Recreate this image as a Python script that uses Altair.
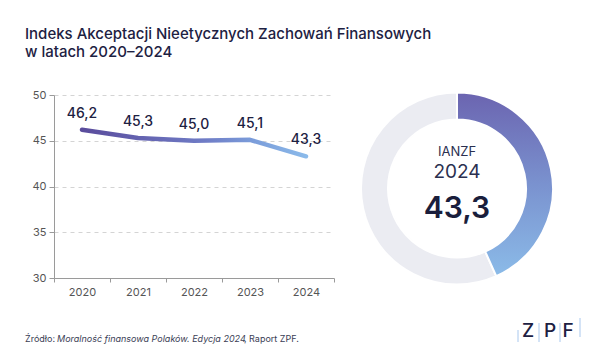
import altair as alt
import pandas as pd

# ---- data ----
years = ["2020", "2021", "2022", "2023", "2024"]
values = [46.2, 45.3, 45.0, 45.1, 43.3]
y_ticks = [30, 35, 40, 45, 50]
title_lines = ["Indeks Akceptacji Nieetycznych Zachowań Finansowych", "w latach 2020–2024"]
donut_label = "IANZF"
donut_year = "2024"
donut_value = values[-1]
footer_parts = ["Źródło: ", "Moralność finansowa Polaków. Edycja 2024", ", Raport ZPF."]
logo_letters = ["Z", "P", "F"]

FONT = "Inter"
NAVY = "#1d2142"

df = pd.DataFrame({"year": years, "value": values})

W, H = 280, 183

x_enc = alt.X("year:O", scale=alt.Scale(type="band", paddingInner=0, paddingOuter=0),
              axis=alt.Axis(title=None, labelAngle=0, tickBand="extent", tickSize=4,
                            labelPadding=4, domainColor="#9a9a9a", tickColor="#9a9a9a",
                            labelColor="#555", labelFontSize=11, labelFont=FONT, grid=False))
y_enc = alt.Y("value:Q", scale=alt.Scale(domain=[30, 50], nice=False, zero=False),
              axis=alt.Axis(title=None, values=y_ticks, tickSize=5, labelPadding=3,
                            domainColor="#9a9a9a", tickColor="#9a9a9a", labelColor="#555",
                            labelFontSize=11, labelFont=FONT, grid=True, gridColor="#d4d4d4",
                            gridDash=[4, 4], gridWidth=1))

line_grad = alt.LinearGradient(
    gradient="linear",
    stops=[alt.GradientStop(color="#5a4c9c", offset=0),
           alt.GradientStop(color="#6f7cc6", offset=0.55),
           alt.GradientStop(color="#7a9bd9", offset=0.75),
           alt.GradientStop(color="#8bbaea", offset=1)],
    x1=0, x2=1, y1=0, y2=0)

line = alt.Chart(df).mark_line(stroke=line_grad, strokeWidth=4.5, strokeCap="round",
                               strokeJoin="round").encode(x=x_enc, y=y_enc)

labels = alt.Chart(df).transform_calculate(
    lab="replace(format(datum.value, '.1f'), '.', ',')"
).mark_text(font=FONT, fontSize=14, fontWeight=500, color=NAVY, dy=-12,
            baseline="alphabetic").encode(x="year:O", y="value:Q", text="lab:N")

# ---- donut ----
arc_df = pd.DataFrame({"start": [0, donut_value], "end": [donut_value, 100], "part": ["v", "rest"]})
theta_scale = alt.Scale(domain=[0, 100], range=[0, 6.283185307179586])
CX, CY = 403, 93.5

arc_grad = alt.LinearGradient(
    gradient="linear",
    stops=[alt.GradientStop(color="#6b64b0", offset=0),
           alt.GradientStop(color="#7a92cf", offset=0.5),
           alt.GradientStop(color="#8bbbe8", offset=1)],
    x1=0, x2=0, y1=0, y2=1)

arc_rest = alt.Chart(arc_df).transform_filter("datum.part == 'rest'").mark_arc(
    outerRadius=96, innerRadius=69, fill="#ebecf2", stroke="white", strokeWidth=2
).encode(theta=alt.Theta("start:Q", scale=theta_scale), theta2="end:Q",
         x=alt.value(CX), y=alt.value(CY))

arc_val = alt.Chart(arc_df).transform_filter("datum.part == 'v'").mark_arc(
    outerRadius=96, innerRadius=69, fill=arc_grad, stroke="white", strokeWidth=2
).encode(theta=alt.Theta("start:Q", scale=theta_scale), theta2="end:Q",
         x=alt.value(CX), y=alt.value(CY))


def txt(s, x, y, size, weight=400, color=NAVY, align="left", style="normal"):
    return alt.Chart(pd.DataFrame({"t": [s]})).mark_text(
        font=FONT, fontSize=size, fontWeight=weight, color=color, align=align,
        baseline="alphabetic", fontStyle=style
    ).encode(text="t:N", x=alt.value(x), y=alt.value(y))


c1 = txt(donut_label, CX, 61, 13, 400, "#2b3050", "center")
c2 = txt(donut_year, CX, 83, 19, 400, "#2b3050", "center")
c3 = txt(f"{donut_value:.1f}".replace(".", ","), CX, 123, 30, 600, "#1a1e3c", "center")

t1 = txt(title_lines[0], -29, -56.5, 15, 500)
t2 = txt(title_lines[1], -29, -38.5, 15, 500)

f1 = txt(footer_parts[0], -29, 247, 9, 400, "#3a3e55")
f2 = txt(footer_parts[1], 3, 247, 9, 400, "#3a3e55", style="italic")
f3 = txt(footer_parts[2], 190, 247, 9, 400, "#3a3e55")

L1 = txt(logo_letters[0], 474, 242, 19, 500, NAVY, "center")
L2 = txt(logo_letters[1], 496, 242, 19, 500, NAVY, "center")
L3 = txt(logo_letters[2], 514, 242, 19, 500, NAVY, "center")


def vrule(x, y1, y2):
    return alt.Chart(pd.DataFrame({"a": [0]})).mark_rule(color="#a9c8ee", strokeWidth=1).encode(
        x=alt.value(x), y=alt.value(y1), y2=alt.value(y2))


r1 = vrule(464, 235, 247)
r2 = vrule(485, 228, 247)
r3 = vrule(506, 228, 247)
r4 = vrule(526, 223, 242)

bottom = alt.Chart(pd.DataFrame({"a": [0]})).mark_rule(color="#bdbdbd", strokeWidth=2).encode(
    x=alt.value(-46), x2=alt.value(538), y=alt.value(262))

chart = alt.layer(
    line, labels, arc_rest, arc_val, c1, c2, c3, t1, t2, f1, f2, f3,
    L1, L2, L3, r1, r2, r3, r4, bottom
).properties(
    width=W, height=H,
    autosize=alt.AutoSizeParams(type="none"),
    padding={"left": 46, "top": 87, "right": 258, "bottom": 74},
    background="white",
).configure_view(stroke=None)

chart.save("out.html", embed_options={"renderer": "svg", "actions": False})
